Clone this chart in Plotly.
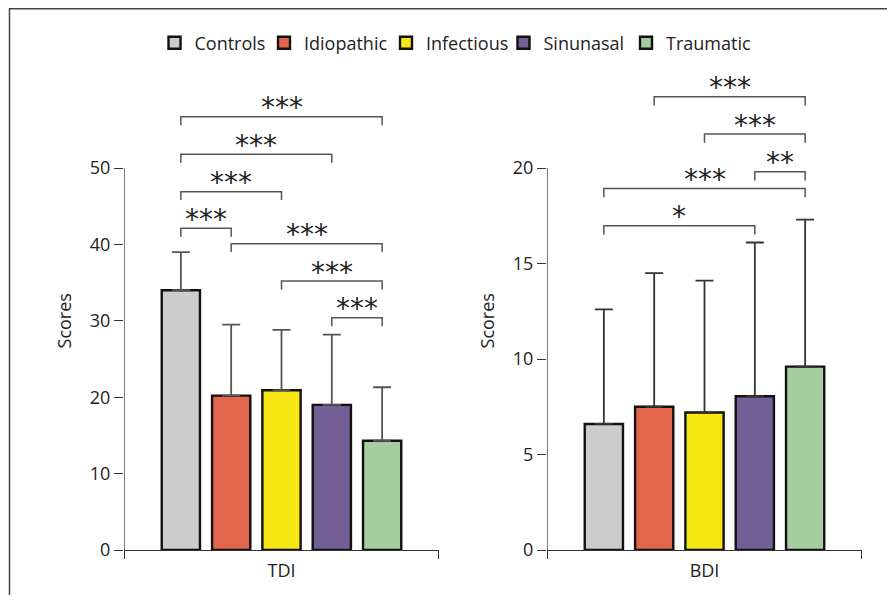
import plotly.graph_objects as go

# ---------------- data ----------------
categories = ["Controls", "Idiopathic", "Infectious", "Sinunasal", "Traumatic"]
colors = ["#CCCCCC", "#E1664C", "#F5E614", "#735E96", "#A5CDA0"]

tdi_mean = [34.0, 20.2, 20.9, 19.0, 14.3]
tdi_sd = [5.0, 9.3, 7.9, 9.2, 7.0]

bdi_mean = [6.6, 7.5, 7.2, 8.05, 9.6]
bdi_sd = [6.0, 7.0, 6.9, 8.05, 7.7]

# significance brackets: (group i, group j, bracket height, label)
tdi_sig = [(0, 4, 56.7, "***"), (0, 3, 51.8, "***"), (0, 2, 46.9, "***"),
           (0, 1, 42.1, "***"), (1, 4, 40.1, "***"), (2, 4, 35.2, "***"),
           (3, 4, 30.4, "***")]
bdi_sig = [(1, 4, 23.73, "***"), (2, 4, 21.78, "***"), (3, 4, 19.8, "**"),
           (0, 4, 18.93, "***"), (0, 3, 16.98, "*")]

panel_titles = ["TDI", "BDI"]
tdi_ticks = [0, 10, 20, 30, 40, 50]
bdi_ticks = [0, 5, 10, 15, 20]

# ---------------- layout constants (figure pixels) ----------------
W, H = 879, 587          # page body adds an 8px margin on each side
FONT = "Open Sans"
FS = 18
xr = [-1.13, 5.13]
x_pos = list(range(len(categories)))
legend_icon_px = [166.5, 276, 398, 515.5, 638]

fig = go.Figure()

panels = [
    dict(mean=tdi_mean, sd=tdi_sd, sig=tdi_sig, xa="x", ya="y", tick=1.1, ymax=50,
         ebcolor="#555555"),
    dict(mean=bdi_mean, sd=bdi_sd, sig=bdi_sig, xa="x2", ya="y2", tick=0.46, ymax=20,
         ebcolor="#333333"),
]

legend_names = ["legend", "legend2", "legend3", "legend4", "legend5"]

for p_idx, p in enumerate(panels):
    for i, cat in enumerate(categories):
        fig.add_trace(go.Bar(
            x=[x_pos[i]], y=[p["mean"][i]], name=cat,
            width=0.76,
            marker=dict(color=colors[i], line=dict(color="#111111", width=2.4)),
            error_y=dict(type="data", symmetric=False, array=[p["sd"][i]],
                         arrayminus=[0], color=p["ebcolor"], thickness=1.8, width=9),
            xaxis=p["xa"], yaxis=p["ya"],
            showlegend=(p_idx == 0), legendgroup=cat, legend=legend_names[i],
        ))
    for (i, j, lvl, lab) in p["sig"]:
        t = p["tick"]
        fig.add_trace(go.Scatter(
            x=[x_pos[i], x_pos[i], x_pos[j], x_pos[j]],
            y=[lvl - t, lvl, lvl, lvl - t],
            mode="lines", line=dict(color="#555555", width=1.5),
            xaxis=p["xa"], yaxis=p["ya"], showlegend=False, hoverinfo="skip",
        ))
        fig.add_annotation(
            x=(x_pos[i] + x_pos[j]) / 2, y=lvl, xref=p["xa"], yref=p["ya"],
            text=lab, showarrow=False, yanchor="bottom", yshift=-9.5,
            font=dict(family="DejaVu Sans", size=28, color="#222222"),
        )
    # y axis line from 0 to top tick
    fig.add_shape(type="line", xref=p["xa"], yref=p["ya"],
                  x0=xr[0], x1=xr[0], y0=0, y1=p["ymax"],
                  line=dict(color="#333333", width=1.3))

y0p = (H - 542) / H
y1p = (H - 83.6) / H
ax_common = dict(showgrid=False, zeroline=False, automargin=False)


def xaxis_cfg(dom, title, anchor):
    return dict(domain=dom, range=xr, showline=True, linecolor="#333333",
                linewidth=1.3, ticks="outside", ticklen=8, tickcolor="#333333",
                tickwidth=1.3, tickvals=[xr[0] + 0.001, xr[1] - 0.001],
                ticktext=["", ""], title=dict(text=title, standoff=2,
                                              font=dict(size=FS)),
                anchor=anchor, **ax_common)


def yaxis_cfg(rng, ticks, anchor):
    return dict(domain=[y0p, y1p], range=rng, showline=False, ticks="outside",
                ticklen=9, tickcolor="#333333", tickwidth=1.3, tickvals=ticks,
                title=dict(text="Scores", standoff=13.5, font=dict(size=FS)),
                tickfont=dict(size=FS), anchor=anchor, **ax_common)


layout_kw = dict(
    width=W, height=H,
    margin=dict(l=0, r=0, t=0, b=0, autoexpand=False),
    paper_bgcolor="white", plot_bgcolor="white",
    barmode="overlay",
    font=dict(family=FONT, size=FS, color="#222222"),
    xaxis=xaxis_cfg([116 / W, 431 / W], panel_titles[0], "y"),
    xaxis2=xaxis_cfg([539 / W, 854 / W], panel_titles[1], "y2"),
    yaxis=yaxis_cfg([0, 60], tdi_ticks, "x"),
    yaxis2=yaxis_cfg([0, 24], bdi_ticks, "x2"),
)
for k, name in enumerate(legend_names):
    layout_kw[name] = dict(orientation="h", x=(legend_icon_px[k] - 20) / W,
                           xanchor="left", y=(H - 35) / H, yanchor="middle",
                           font=dict(size=FS), bgcolor="rgba(0,0,0,0)",
                           borderwidth=0, itemclick=False, itemdoubleclick=False)
fig.update_layout(**layout_kw)

# outer frame (cropped figure border)
fig.add_shape(type="rect", xref="paper", yref="paper",
              x0=1.5 / W, x1=1.05, y0=-0.05, y1=1 - 0.75 / H,
              line=dict(color="#444444", width=1.5))

fig.write_html("out.html")
